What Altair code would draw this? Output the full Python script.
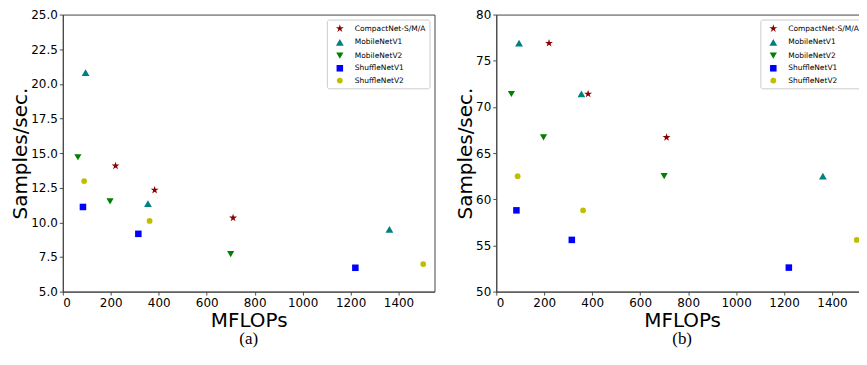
import altair as alt
import pandas as pd

models = ["CompactNet-S/M/A", "MobileNetV1", "MobileNetV2", "ShuffleNetV1", "ShuffleNetV2"]
colors = ["#8b0000", "#008080", "#008000", "#0000ff", "#bfbf00"]
star = "M0,-1L0.2245,-0.309L0.951,-0.309L0.363,0.118L0.588,0.809L0,0.382L-0.588,0.809L-0.363,0.118L-0.951,-0.309L-0.2245,-0.309Z"
shapes = [star, "triangle-up", "triangle-down", "square", "circle"]
sizes = [70, 34, 34, 34, 34]

# MFLOPs (x) for each model, same in both panels
compactnet_mflops = [220, 383, 710]
mobilenetv1_mflops = [95, 355, 1362]
mobilenetv2_mflops = [63, 197, 700]
shufflenetv1_mflops = [84, 315, 1220]
shufflenetv2_mflops = [89, 362, 1503]

# panel (a) samples/sec
compactnet_a = [14.08, 12.33, 10.32]
mobilenetv1_a = [20.81, 11.35, 9.50]
mobilenetv2_a = [14.70, 11.51, 7.71]
shufflenetv1_a = [11.11, 9.17, 6.72]
shufflenetv2_a = [12.98, 10.10, 6.99]

# panel (b) samples/sec
compactnet_b = [76.9, 71.4, 66.7]
mobilenetv1_b = [76.9, 71.4, 62.5]
mobilenetv2_b = [71.4, 66.7, 62.5]
shufflenetv1_b = [58.8, 55.6, 52.6]
shufflenetv2_b = [62.5, 58.8, 55.6]

x_ticks = [0, 200, 400, 600, 800, 1000, 1200, 1400]
y_ticks_a = [5.0, 7.5, 10.0, 12.5, 15.0, 17.5, 20.0, 22.5, 25.0]
y_ticks_b = [50, 55, 60, 65, 70, 75, 80]

mflops = [compactnet_mflops, mobilenetv1_mflops, mobilenetv2_mflops,
          shufflenetv1_mflops, shufflenetv2_mflops]


def frame(values):
    rows = []
    for m, xs, ys in zip(models, mflops, values):
        for x, y in zip(xs, ys):
            rows.append({"model": m, "mflops": x, "sps": y})
    return pd.DataFrame(rows)


def panel(df, ydom, yticks, yfmt, caption):
    return alt.Chart(df).mark_point(filled=True, opacity=1).encode(
        x=alt.X("mflops:Q", title="MFLOPs",
                scale=alt.Scale(domain=[0, 1550], nice=False, zero=False),
                axis=alt.Axis(values=x_ticks, format="d")),
        y=alt.Y("sps:Q", title="Samples/sec.",
                scale=alt.Scale(domain=ydom, nice=False, zero=False),
                axis=alt.Axis(values=yticks, format=yfmt)),
        color=alt.Color("model:N", scale=alt.Scale(domain=models, range=colors),
                        legend=alt.Legend(title=None)),
        shape=alt.Shape("model:N", scale=alt.Scale(domain=models, range=shapes),
                        legend=alt.Legend(title=None)),
        size=alt.Size("model:N", scale=alt.Scale(domain=models, range=sizes),
                      legend=None),
    ).properties(
        width=373, height=278,
        title=alt.TitleParams(caption, orient="bottom", anchor="middle",
                              font="Liberation Serif", fontSize=17,
                              fontWeight="normal", color="black", offset=0),
    )


pa = panel(frame([compactnet_a, mobilenetv1_a, mobilenetv2_a, shufflenetv1_a, shufflenetv2_a]),
           [5, 25], y_ticks_a, ".1f", "(a)")
pb = panel(frame([compactnet_b, mobilenetv1_b, mobilenetv2_b, shufflenetv1_b, shufflenetv2_b]),
           [50, 80], y_ticks_b, "d", "(b)")

chart = alt.hconcat(pa, pb, spacing=19).resolve_scale(
    color="independent", shape="independent", size="independent"
).properties(
    padding={"left": 2, "top": -1, "right": -10, "bottom": 0}
).configure_view(
    stroke="#444444", strokeWidth=1
).configure_axis(
    grid=False, domainColor="#444444", domainWidth=1,
    tickColor="#222222", tickSize=3.5, tickWidth=0.8,
    labelFont="DejaVu Sans", labelFontSize=12, labelColor="black", labelPadding=2,
    titleFont="DejaVu Sans", titleFontSize=20, titleFontWeight="normal", titleColor="black",
).configure_axisY(
    titlePadding=0
).configure_axisX(
    titlePadding=3
).configure_legend(
    orient="top-right", offset=5, padding=4, strokeColor="#cccccc", fillColor="white",
    cornerRadius=2, labelFont="DejaVu Sans", labelFontSize=7.5, labelColor="black",
    labelFontWeight="normal",
    symbolSize=25, rowPadding=4.8, labelOffset=10, symbolOffset=4,
)

chart.save("out.html", embed_options={"renderer": "svg", "actions": False})
